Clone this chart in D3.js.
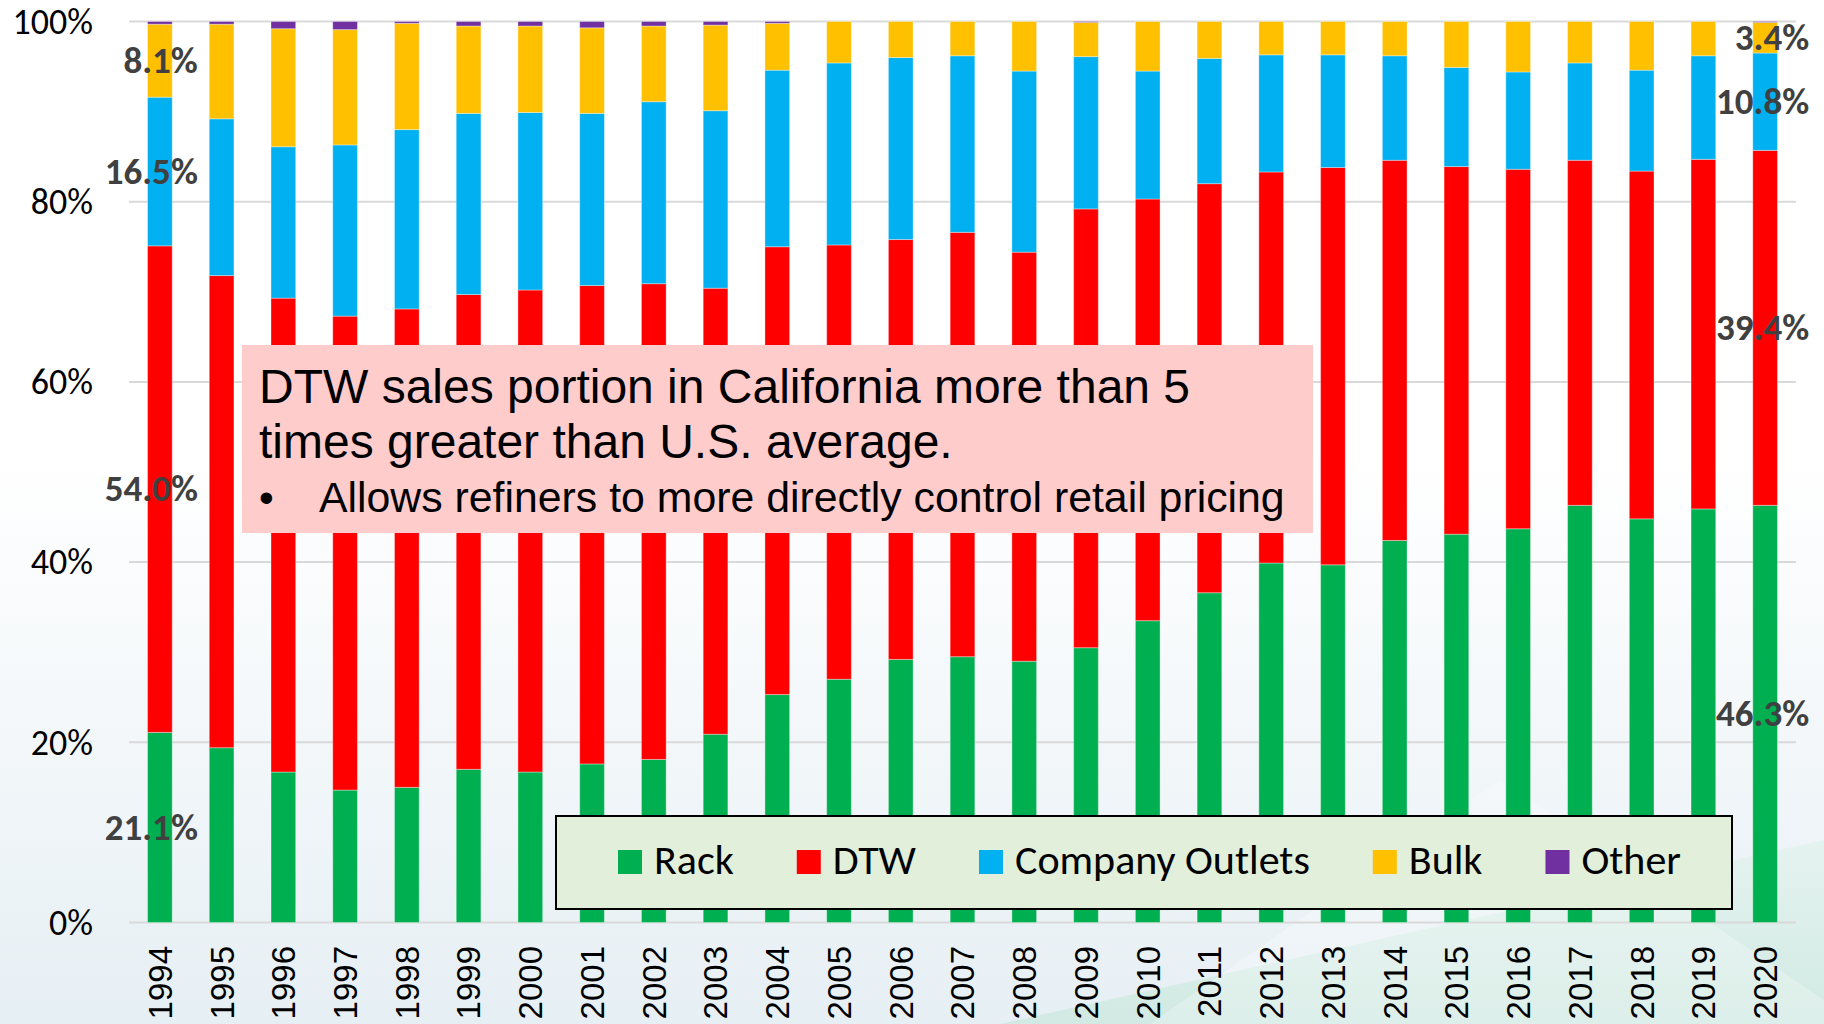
<!DOCTYPE html>
<html>
<head>
<meta charset="utf-8">
<script src="https://cdn.jsdelivr.net/npm/d3@7"></script>
<style>
  html, body { margin: 0; padding: 0; background: #ffffff; }
  svg { display: block; }
</style>
</head>
<body>
<svg id="chart" width="1824" height="1024"></svg>
<script>
// ---------------- DATA ----------------
const years = ["1994","1995","1996","1997","1998","1999","2000","2001","2002","2003","2004","2005","2006","2007","2008","2009","2010","2011","2012","2013","2014","2015","2016","2017","2018","2019","2020"];
const seriesNames = ["Rack","DTW","Company Outlets","Bulk","Other"];
const rack    = [21.1,19.4,16.7,14.7,15.0,17.0,16.7,17.6,18.1,20.9,25.3,27.0,29.2,29.5,29.0,30.5,33.5,36.6,39.9,39.7,42.4,43.1,43.7,46.3,44.8,45.9,46.3];
const dtw     = [54.0,52.4,52.6,52.6,53.1,52.7,53.5,53.1,52.8,49.5,49.7,48.2,46.6,47.1,45.4,48.7,46.8,45.4,43.4,44.1,42.2,40.8,39.9,38.3,38.6,38.8,39.4];
const outlets = [16.5,17.4,16.8,19.0,19.9,20.1,19.7,19.1,20.2,19.7,19.6,20.2,20.2,19.6,20.1,16.9,14.2,13.9,13.0,12.5,11.6,11.0,10.8,10.8,11.2,11.5,10.8];
const bulk    = [8.1,10.5,13.1,12.8,11.8,9.7,9.6,9.5,8.4,9.5,5.2,4.6,4.0,3.8,5.5,3.8,5.5,4.1,3.7,3.7,3.8,5.1,5.6,4.6,5.4,3.8,3.4];
const other   = [0.3,0.3,0.8,0.9,0.2,0.5,0.5,0.7,0.5,0.4,0.2,0.0,0.0,0.0,0.0,0.1,0.0,0.0,0.0,0.0,0.0,0.0,0.0,0.0,0.0,0.0,0.1];
const yTicks  = [0,20,40,60,80,100];
const colors  = ["#00B050","#FF0000","#00B0F0","#FFC000","#7030A0"];
// labelled values: [year index, series index]
const labelled = [[0,0],[0,1],[0,2],[0,3],[26,0],[26,1],[26,2],[26,3]];
const noteLines = ["DTW sales portion in California more than 5", "times greater than U.S. average."];
const noteBullet = "Allows refiners to more directly control retail pricing";

// ---------------- SETUP ----------------
const svg = d3.select("#chart");
const W = 1824, H = 1024;
const calibri = "Carlito, Calibri, Lato, sans-serif";
const arial = "'Liberation Sans', Arial, sans-serif";
const rows = years.map((y, i) => ({
  year: y, "Rack": rack[i], "DTW": dtw[i], "Company Outlets": outlets[i], "Bulk": bulk[i], "Other": other[i]
}));

const x = d3.scaleBand().domain(years).range([129, 1796]).paddingInner(0.6).paddingOuter(0.3);
const y = d3.scaleLinear().domain([0, 100]).range([922.5, 21.5]);
const color = d3.scaleOrdinal().domain(seriesNames).range(colors);

// background
const defs = svg.append("defs");
const bg = defs.append("linearGradient").attr("id","bgGrad").attr("x1",0).attr("y1",0).attr("x2",0).attr("y2",1);
bg.append("stop").attr("offset","0%").attr("stop-color","#ffffff");
bg.append("stop").attr("offset","45%").attr("stop-color","#ffffff");
bg.append("stop").attr("offset","100%").attr("stop-color","#e6eff4");
svg.append("rect").attr("width",W).attr("height",H).attr("fill","url(#bgGrad)");
const tg = defs.append("linearGradient").attr("id","tealGrad").attr("x1",0).attr("y1",0).attr("x2",0).attr("y2",1);
tg.append("stop").attr("offset","0%").attr("stop-color","#e4f3ef");
tg.append("stop").attr("offset","100%").attr("stop-color","#cfe9e1");
svg.append("path").attr("d","M1000,1024 L1824,840 L1824,1024 Z").attr("fill","url(#tealGrad)").attr("opacity",0.9);
svg.append("path").attr("d","M1150,1024 L1500,780 L1824,1000 L1824,1024 Z").attr("fill","#ffffff").attr("opacity",0.25);

// gridlines
svg.append("g").selectAll("line").data(yTicks).join("line")
  .attr("x1", 129).attr("x2", 1796)
  .attr("y1", d => y(d)).attr("y2", d => y(d))
  .attr("stroke", "#d9d9d9").attr("stroke-width", 2);

// y-axis labels
const yAxis = d3.axisLeft(y).tickValues(yTicks).tickFormat(d => d + "%").tickSize(0).tickPadding(0);
const yg = svg.append("g").attr("transform", "translate(93,0)").call(yAxis);
yg.select(".domain").remove();
yg.selectAll("text").attr("font-family", calibri).attr("font-size", 36).attr("fill", "#000").attr("dy", "0.33em");

// x-axis labels
const xAxis = d3.axisBottom(x).tickSize(0).tickPadding(0);
const xg = svg.append("g").attr("transform", "translate(0,946)").call(xAxis);
xg.select(".domain").remove();
xg.selectAll("text")
  .attr("font-family", arial).attr("font-size", 33).attr("fill", "#000")
  .attr("text-anchor", "end").attr("transform", "rotate(-90)")
  .attr("x", 0).attr("y", 0).attr("dy", "0.36em");

// stacked bars
const stack = d3.stack().keys(seriesNames)(rows);
svg.append("g").selectAll("g").data(stack).join("g")
  .attr("fill", d => color(d.key))
  .selectAll("rect").data(d => d).join("rect")
  .attr("x", d => x(d.data.year))
  .attr("width", x.bandwidth())
  .attr("y", d => y(d[1]))
  .attr("height", d => Math.max(0, y(d[0]) - y(d[1])))
  .attr("stroke", "rgba(255,255,255,0.35)").attr("stroke-width", 1);

// data labels
svg.append("g").selectAll("text").data(labelled).join("text")
  .attr("x", d => x(years[d[0]]) + x.bandwidth() / 2 + (d[0] === 0 ? 38 : 44))
  .attr("y", d => { const s = stack[d[1]][d[0]]; return y((s[0] + s[1]) / 2); })
  .attr("dy", "0.33em")
  .attr("text-anchor", "end")
  .attr("font-family", calibri).attr("font-weight", "bold").attr("font-size", 37)
  .attr("fill", "#404040")
  .text(d => stack[d[1]][d[0]].data[seriesNames[d[1]]].toFixed(1) + "%");

// annotation box
const note = svg.append("g");
note.append("rect").attr("x", 242).attr("y", 345).attr("width", 1071).attr("height", 188).attr("fill", "#FFCCCC");
note.selectAll("text.l").data(noteLines).join("text").attr("class","l")
  .attr("x", 259).attr("y", (d, i) => 403 + i * 55)
  .attr("font-family", arial).attr("font-size", 48).attr("fill", "#000")
  .text(d => d);
note.append("text").attr("x", 259).attr("y", 512)
  .attr("font-family", arial).attr("font-size", 42).attr("fill", "#000")
  .text("\u2022");
note.append("text").attr("x", 319).attr("y", 512)
  .attr("font-family", arial).attr("font-size", 42.8).attr("fill", "#000")
  .text(noteBullet);

// legend
const lg = svg.append("g");
lg.append("rect").attr("x", 556).attr("y", 816).attr("width", 1176).attr("height", 93)
  .attr("fill", "#E2EFDA").attr("stroke", "#000").attr("stroke-width", 2);
let lx = 618;
seriesNames.forEach((name, i) => {
  lg.append("rect").attr("x", lx).attr("y", 850).attr("width", 24).attr("height", 24).attr("fill", colors[i]);
  const t = lg.append("text").attr("x", lx + 36).attr("y", 874)
    .attr("font-family", calibri).attr("font-size", 42).attr("fill", "#000")
    .text(name);
  lx = lx + 36 + t.node().getComputedTextLength() + 63;
});
</script>
</body>
</html>
